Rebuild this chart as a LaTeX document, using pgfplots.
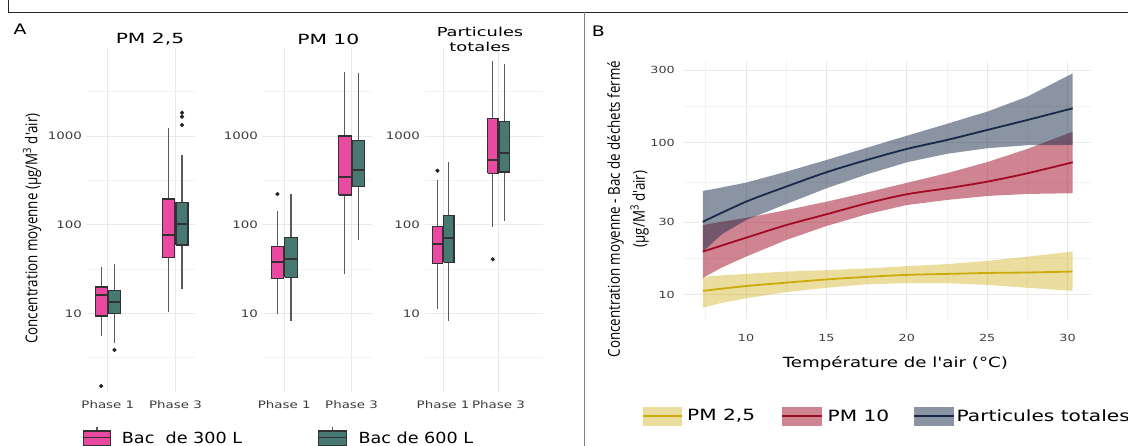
\documentclass[border=0pt]{standalone}
\usepackage{fontspec}
\setmainfont{DejaVu Sans}
\newfontfamily\hfont[FakeStretch=1.3]{DejaVu Sans}
\newfontfamily\tfont[FakeStretch=1.45]{DejaVu Sans}
\newfontfamily\lfont[FakeStretch=1.15]{DejaVu Sans}
\newfontfamily\vfont[FakeStretch=0.82]{Open Sans}
\usepackage{pgfplots}
\pgfplotsset{compat=1.18}
\usepackage{pgfplotstable}

\definecolor{pinkbox}{RGB}{233,73,160}
\definecolor{tealbox}{RGB}{71,120,114}
\definecolor{boxline}{RGB}{50,50,50}
\definecolor{whisk}{RGB}{90,90,90}
\definecolor{dotc}{RGB}{35,35,35}
\definecolor{gridc}{RGB}{233,233,233}
\definecolor{gridm}{RGB}{242,242,242}
\definecolor{tickc}{RGB}{60,60,60}
\definecolor{cpm25}{RGB}{204,170,10}
\definecolor{cpm10}{RGB}{160,10,35}
\definecolor{cpt}{RGB}{22,42,72}

% panel B: fitted curves (x = air temperature)
\pgfplotstableread{
x pm25 pm10 pt
7.31 10.6 19.2 30.2
10 11.4 23.7 40.9
12.5 12.0 28.7 51.4
15 12.6 33.8 63.9
17.5 13.1 39.9 76.9
20 13.5 45.8 90.9
22.5 13.7 50.1 104.2
25 13.9 55.4 121.2
27.5 14.0 62.9 141
30.32 14.2 74.3 168.3
}\fits
% confidence ribbons: upper edge left to right, then lower edge right to left
\pgfplotstableread{
x y
7.31 13.1
8.5 13.4
10 13.7
12.5 14.2
15 14.5
17.5 14.9
20 15.4
22.5 15.9
25 16.7
27.5 17.8
30.32 19.2
30.32 10.6
27.5 11.1
25 11.6
22.5 11.9
20 11.9
17.5 11.7
15 11.1
12.5 10.4
10 9.47
8.5 8.85
7.31 8.21
}\bandtwo
\pgfplotstableread{
x y
7.31 28.7
8.5 30.2
10 32.0
12.5 36.0
15 40.9
17.5 47.0
20 54.4
22.5 63.0
25 74.5
27.5 91.0
30.32 118
30.32 46.5
27.5 46.0
25 44.6
22.5 42.0
20 38.9
17.5 33.8
15 28.3
12.5 22.9
10 17.8
8.5 15.1
7.31 12.9
}\bandten
\pgfplotstableread{
x y
7.31 48.1
8.5 50.8
10 54.6
12.5 64.4
15 76.9
17.5 92.5
20 111
22.5 133
25 160
27.5 200.9
30.32 286
30.32 96.6
27.5 96.2
25 91.9
22.5 84.5
20 74.3
17.5 61.8
15 50.1
12.5 39.5
10 31.0
8.5 25.0
7.31 19.2
}\bandpt

% one box: position, half width, lower whisker, q1, median, q3, upper whisker, fill
\newcommand{\bx}[8]{%
  \pgfmathsetmacro\xl{#1-#2}\pgfmathsetmacro\xr{#1+#2}%
  \addplot[draw=whisk, line width=1.2pt] coordinates {(#1,#3) (#1,#4)};
  \addplot[draw=whisk, line width=1.2pt] coordinates {(#1,#6) (#1,#7)};
  \addplot[fill=#8, draw=boxline, line width=1.2pt] coordinates {(\xl,#4) (\xr,#4) (\xr,#6) (\xl,#6) (\xl,#4)};
  \addplot[draw=boxline, line width=1.8pt] coordinates {(\xl,#5) (\xr,#5)};
}

\begin{document}
\begin{tikzpicture}
\useasboundingbox (0pt,0pt) rectangle (1128pt,446pt);
\clip (0pt,0pt) rectangle (1128pt,446pt);

\draw[black!85, line width=1.2pt] (8.3pt,446pt) -- (8.3pt,433.7pt) -- (1130pt,433.7pt);
\draw[black!50, line width=1.8pt] (584.4pt,433.7pt) -- (584.4pt,-2pt);

% ---- A: PM 2,5
\begin{axis}[at={(87pt,54pt)}, anchor=south west, scale only axis, width=108pt, height=344pt,
  xmin=0.692, xmax=2.29, ymode=log, ymin=1.303, ymax=9841,
  ytick={10,100,1000}, yticklabels={10,100,1000}, minor ytick={3.162,31.62,316.2,3162},
  xtick={1,2}, xticklabels={Phase 1,Phase 3},
  grid=both, major grid style={draw=gridc, line width=1pt}, minor grid style={draw=gridm, line width=0.7pt},
  axis line style={draw=none}, tick style={draw=none}, major tick length=0pt, minor tick length=0pt,
  tick label style={font=\hfont\fontsize{10.3}{12}\selectfont, text=tickc},
  yticklabel style={xshift=-1.5pt}, xticklabel style={yshift=-5pt}]
\bx{0.902}{0.089}{5.6}{9.37}{16.2}{19.9}{33.7}{pinkbox}
\bx{1.098}{0.089}{4.7}{9.9}{13.6}{18.3}{36.1}{tealbox}
\bx{1.902}{0.089}{10.3}{42.5}{76.8}{195}{1225}{pinkbox}
\bx{2.098}{0.089}{18.9}{59.2}{101}{179}{608}{tealbox}
\addplot[only marks, mark=*, mark size=1.9pt, color=dotc] coordinates {(0.902,1.52) (1.098,3.88) (2.098,1334) (2.098,1656) (2.098,1836)};
\end{axis}

% ---- A: PM 10
\begin{axis}[at={(263pt,54pt)}, anchor=south west, scale only axis, width=109pt, height=344pt,
  xmin=0.685, xmax=2.303, ymode=log, ymin=1.303, ymax=9841,
  ytick={10,100,1000}, yticklabels={10,100,1000}, minor ytick={3.162,31.62,316.2,3162},
  xtick={1,2}, xticklabels={Phase 1,Phase 3},
  grid=both, major grid style={draw=gridc, line width=1pt}, minor grid style={draw=gridm, line width=0.7pt},
  axis line style={draw=none}, tick style={draw=none}, major tick length=0pt, minor tick length=0pt,
  tick label style={font=\hfont\fontsize{10.3}{12}\selectfont, text=tickc},
  yticklabel style={xshift=-1.5pt}, xticklabel style={yshift=-5pt}]
\bx{0.9}{0.093}{9.8}{24.7}{38.4}{56.6}{142}{pinkbox}
\bx{1.1}{0.093}{8.3}{25.6}{40.8}{72.3}{222}{tealbox}
\bx{1.9}{0.093}{27.7}{217}{349}{1000}{5320}{pinkbox}
\bx{2.1}{0.093}{67.5}{269}{415}{888}{5190}{tealbox}
\addplot[only marks, mark=*, mark size=1.9pt, color=dotc] coordinates {(0.9,222)};
\end{axis}

% ---- A: Particules totales
\begin{axis}[at={(425pt,54pt)}, anchor=south west, scale only axis, width=118pt, height=344pt,
  xmin=0.673, xmax=2.803, ymode=log, ymin=1.303, ymax=9841,
  ytick={10,100,1000}, yticklabels={10,100,1000}, minor ytick={3.162,31.62,316.2,3162},
  xtick={1,2}, xticklabels={Phase 1,Phase 3},
  grid=both, major grid style={draw=gridc, line width=1pt}, minor grid style={draw=gridm, line width=0.7pt},
  axis line style={draw=none}, tick style={draw=none}, major tick length=0pt, minor tick length=0pt,
  tick label style={font=\hfont\fontsize{10.3}{12}\selectfont, text=tickc},
  yticklabel style={xshift=-1.5pt}, xticklabel style={yshift=-5pt}]
\bx{0.897}{0.095}{11.2}{36.8}{60.8}{95.3}{320}{pinkbox}
\bx{1.103}{0.095}{8.2}{37.8}{70.5}{126}{507}{tealbox}
\bx{1.897}{0.095}{95.3}{381}{533}{1585}{7030}{pinkbox}
\bx{2.103}{0.095}{110}{394}{650}{1452}{6500}{tealbox}
\addplot[only marks, mark=*, mark size=1.9pt, color=dotc] coordinates {(0.897,407) (1.897,40.8)};
\end{axis}

% ---- B
\begin{axis}[at={(684.3pt,126.5pt)}, anchor=south west, scale only axis,
  width=406.9pt, height=258pt,
  xmin=6.16, xmax=31.47, ymode=log, ymin=6.87, ymax=342,
  xtick={10,15,20,25,30}, xticklabels={10,15,20,25,30},
  minor xtick={7.5,12.5,17.5,22.5,27.5},
  ytick={10,30,100,300}, yticklabels={10,30,100,300},
  minor ytick={17.32,54.77,173.2},
  grid=both,
  major grid style={draw=gridc, line width=1pt},
  minor grid style={draw=gridm, line width=0.7pt},
  axis line style={draw=none}, tick style={draw=none},
  major tick length=0pt, minor tick length=0pt,
  tick label style={font=\hfont\fontsize{9.8}{11}\selectfont, text=tickc},
  yticklabel style={xshift=-6pt},
  xticklabel style={yshift=-11pt}]
\addplot[fill=cpm25, fill opacity=0.4, draw=none] table {\bandtwo} -- cycle;
\addplot[fill=cpm10, fill opacity=0.5, draw=none] table {\bandten} -- cycle;
\addplot[fill=cpt, fill opacity=0.5, draw=none] table {\bandpt} -- cycle;
\addplot[cpm25, line width=1.8pt, smooth] table[x=x, y=pm25] {\fits};
\addplot[cpm10, line width=1.8pt, smooth] table[x=x, y=pm10] {\fits};
\addplot[cpt, line width=1.8pt, smooth] table[x=x, y=pt] {\fits};
\end{axis}

% ---- texts
\node[font=\hfont\fontsize{14.5}{16}\selectfont] at (20pt,417pt) {A};
\node[font=\hfont\fontsize{14.5}{16}\selectfont] at (598.3pt,414.3pt) {B};
\node[font=\tfont\fontsize{14}{16}\selectfont] at (150pt,406.5pt) {PM 2,5};
\node[font=\tfont\fontsize{14}{16}\selectfont] at (328.3pt,406.3pt) {PM 10};
\node[font=\tfont\fontsize{12.3}{15.7}\selectfont, align=center] at (480pt,406.5pt) {Particules\\totales};

\node[rotate=90, font=\vfont\fontsize{16.3}{20}\selectfont] at (32pt,217.5pt)
  {Concentration moyenne (µg/M\textsuperscript{3} d'air)};
\node[rotate=90, font=\vfont\fontsize{16.3}{25}\selectfont, align=center] at (628pt,237pt)
  {Concentration moyenne - Bac de déchets fermé\\(µg/M\textsuperscript{3} d'air)};
\node[font=\hfont\fontsize{14}{16}\selectfont] at (895.4pt,82.7pt) {Température de l'air (°C)};

% legend A
\draw[whisk, line width=1.2pt] (97pt,19pt) -- (97pt,-2pt);
\draw[boxline, line width=1.2pt, fill=pinkbox] (83.3pt,0.5pt) rectangle (110.7pt,15pt);
\draw[boxline, line width=1.6pt] (83.3pt,8.3pt) -- (110.7pt,8.3pt);
\node[font=\lfont\fontsize{15.3}{17}\selectfont, anchor=west, inner sep=0pt] at (121.7pt,8.5pt) {Bac\ \ de 300 L};
\draw[whisk, line width=1.2pt] (332.5pt,19pt) -- (332.5pt,-2pt);
\draw[boxline, line width=1.2pt, fill=tealbox] (318.3pt,0.5pt) rectangle (346.7pt,15pt);
\draw[boxline, line width=1.6pt] (318.3pt,8.3pt) -- (346.7pt,8.3pt);
\node[font=\lfont\fontsize{15.3}{17}\selectfont, anchor=west, inner sep=0pt] at (358.3pt,8.5pt) {Bac de 600 L};

% legend B
\fill[cpm25, opacity=0.4] (642.8pt,20pt) rectangle (682pt,39.3pt);
\draw[cpm25, line width=1.6pt] (642.8pt,29.7pt) -- (682pt,29.7pt);
\node[font=\hfont\fontsize{15.5}{17}\selectfont, anchor=west, inner sep=0pt] at (687pt,30pt) {PM 2,5};
\fill[cpm10, opacity=0.5] (782.4pt,20pt) rectangle (821.5pt,39.3pt);
\draw[cpm10, line width=1.6pt] (782.4pt,29.7pt) -- (821.5pt,29.7pt);
\node[font=\hfont\fontsize{15.5}{17}\selectfont, anchor=west, inner sep=0pt] at (827.4pt,30pt) {PM 10};
\fill[cpt, opacity=0.5] (914pt,20pt) rectangle (953.8pt,39.3pt);
\draw[cpt, line width=1.6pt] (914pt,29.7pt) -- (953.8pt,29.7pt);
\node[font=\hfont\fontsize{15.5}{17}\selectfont, anchor=west, inner sep=0pt] at (956.5pt,30pt) {Particules totales};
\end{tikzpicture}
\end{document}
